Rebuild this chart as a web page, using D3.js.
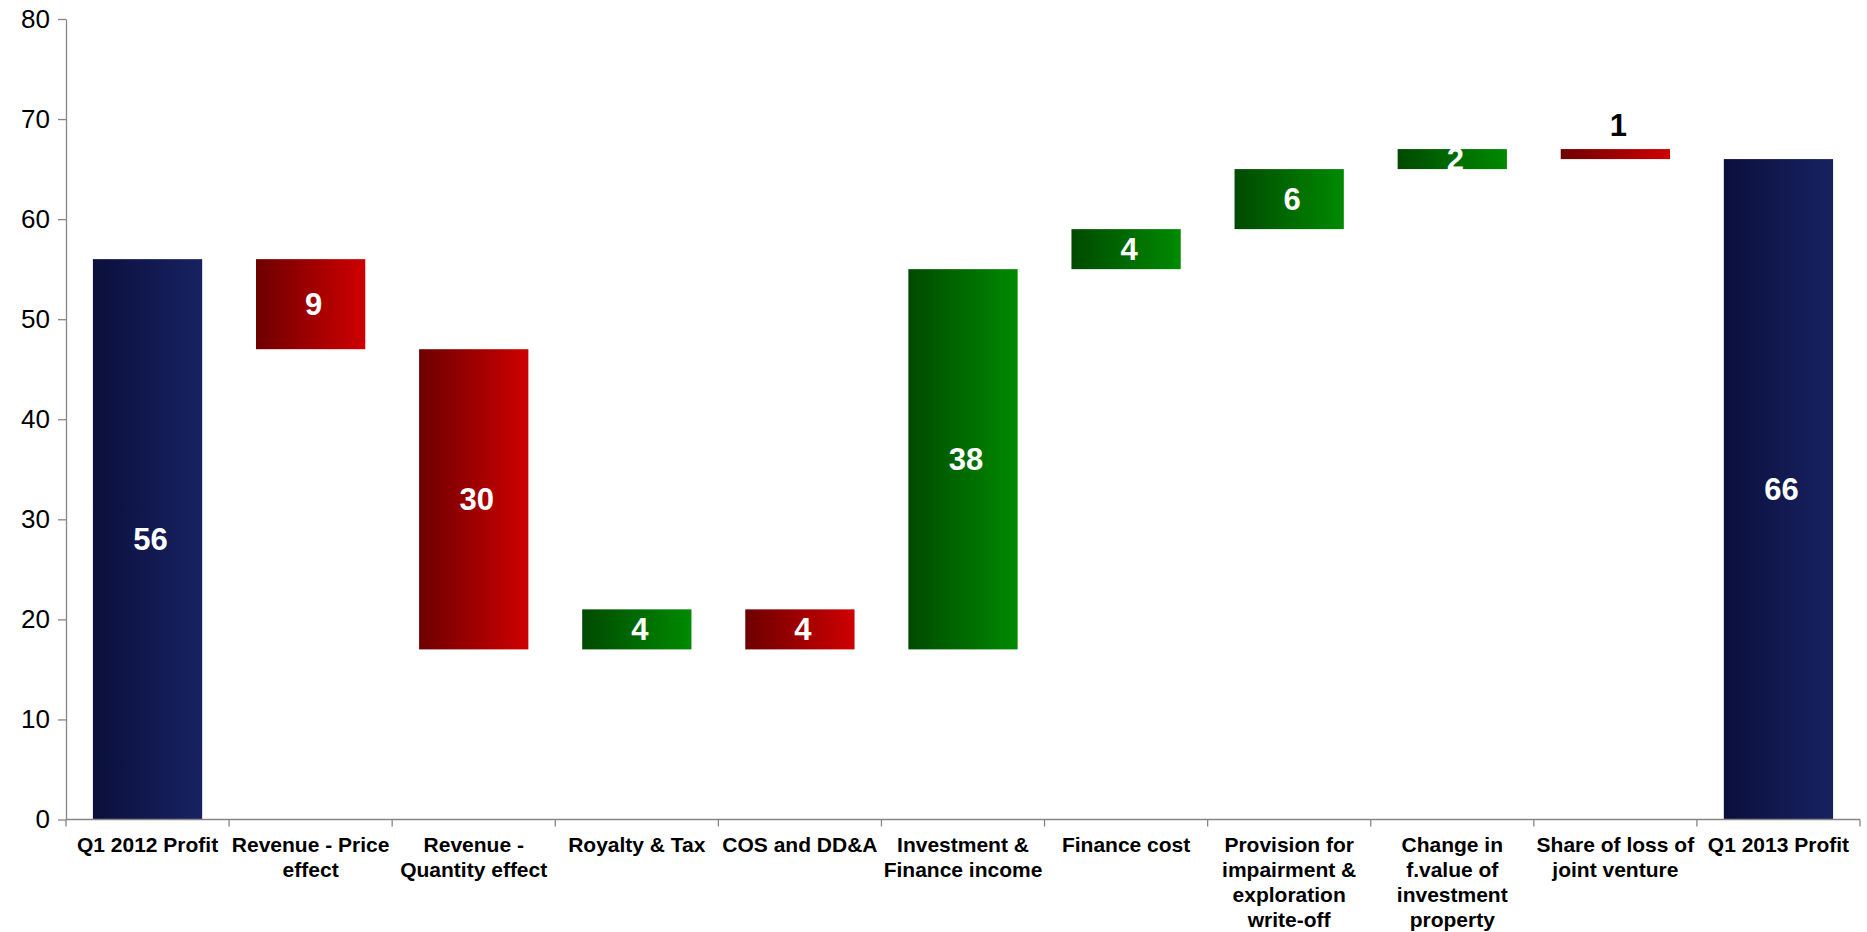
<!DOCTYPE html>
<html>
<head>
<meta charset="utf-8">
<script src="https://cdn.jsdelivr.net/npm/d3@7/dist/d3.min.js"></script>
<style>
  body { margin: 0; background: #fff; }
  text { font-family: "Liberation Sans", Arial, sans-serif; }
</style>
</head>
<body>
<div id="chart"></div>
<script>
// waterfall data
var categories = ["Q1 2012 Profit", "Revenue - Price effect", "Revenue - Quantity effect",
  "Royalty & Tax", "COS and DD&A", "Investment & Finance income", "Finance cost",
  "Provision for impairment & exploration write-off",
  "Change in f.value of investment property", "Share of loss of joint venture", "Q1 2013 Profit"];
var values = [56, -9, -30, 4, -4, 38, 4, 6, 2, -1, 66];
var kinds = ["total", "delta", "delta", "delta", "delta", "delta", "delta", "delta", "delta", "delta", "total"];
var yTicks = [0, 10, 20, 30, 40, 50, 60, 70, 80];

var width = 1867, height = 932;
var margin = {top: 19, right: 7, bottom: 112.5, left: 66};

var svg = d3.select("#chart").append("svg")
    .attr("width", width)
    .attr("height", height);

// gradients, dark on the left to light on the right
var defs = svg.append("defs");
var grads = {
  total: ["#0a0f3b", "#182262"],
  up: ["#004a00", "#008a00"],
  down: ["#6e0000", "#cf0000"]
};
Object.keys(grads).forEach(function(k) {
  var g = defs.append("linearGradient").attr("id", "g-" + k)
      .attr("x1", 0).attr("x2", 1).attr("y1", 0).attr("y2", 0);
  g.append("stop").attr("offset", "0%").attr("stop-color", grads[k][0]);
  g.append("stop").attr("offset", "100%").attr("stop-color", grads[k][1]);
});

// running totals -> start / end of each bar
var running = 0;
var data = categories.map(function(c, i) {
  var d = {name: c, value: values[i], kind: kinds[i]};
  if (d.kind === "total") {
    d.start = 0; d.end = d.value; running = d.value;
  } else {
    d.start = running; d.end = running + d.value; running = d.end;
  }
  return d;
});

var x = d3.scaleBand()
    .domain(categories)
    .range([margin.left, width - margin.right])
    .paddingInner(0.33)
    .paddingOuter(0.165);

var y = d3.scaleLinear()
    .domain([0, 80])
    .range([height - margin.bottom, margin.top]);

var step = x.step();

// bars
svg.append("g")
  .selectAll("rect")
  .data(data)
  .enter().append("rect")
    .attr("x", function(d) { return x(d.name); })
    .attr("width", x.bandwidth())
    .attr("y", function(d) { return y(Math.max(d.start, d.end)); })
    .attr("height", function(d) { return Math.abs(y(d.start) - y(d.end)); })
    .attr("fill", function(d) {
      if (d.kind === "total") return "url(#g-total)";
      return d.value >= 0 ? "url(#g-up)" : "url(#g-down)";
    });

// value labels
svg.append("g")
  .selectAll("text")
  .data(data)
  .enter().append("text")
    .attr("x", function(d) { return x(d.name) + x.bandwidth() / 2 + 3; })
    .attr("y", function(d) {
      var h = Math.abs(y(d.start) - y(d.end));
      if (h < 15) return y(Math.max(d.start, d.end)) - 13;
      return y((d.start + d.end) / 2);
    })
    .attr("dy", function(d) {
      return Math.abs(y(d.start) - y(d.end)) < 15 ? 0 : "0.35em";
    })
    .attr("text-anchor", "middle")
    .attr("font-size", "31px")
    .attr("font-weight", "bold")
    .attr("fill", function(d) { return Math.abs(y(d.start) - y(d.end)) < 15 ? "#000" : "#fff"; })
    .text(function(d) { return Math.abs(d.value); });

// y axis
var yAxis = svg.append("g")
    .attr("transform", "translate(" + margin.left + ",0)")
    .call(d3.axisLeft(y).tickValues(yTicks).tickSize(8).tickSizeOuter(0).tickPadding(8));
yAxis.select(".domain").attr("stroke", "#868686").attr("stroke-width", 1.3);
yAxis.selectAll(".tick line").attr("stroke", "#868686").attr("stroke-width", 1.3);
yAxis.selectAll(".tick text")
    .attr("font-size", "26px")
    .attr("font-family", "Liberation Sans, Arial, sans-serif")
    .attr("fill", "#000");

// x axis: line and ticks between categories
var x0 = y(0);
var xAxis = svg.append("g");
xAxis.append("line")
    .attr("x1", margin.left).attr("x2", width - margin.right)
    .attr("y1", x0).attr("y2", x0)
    .attr("stroke", "#868686").attr("stroke-width", 1.3);
xAxis.selectAll(".xt")
  .data(d3.range(categories.length + 1))
  .enter().append("line")
    .attr("class", "xt")
    .attr("x1", function(i) { return margin.left + i * step; })
    .attr("x2", function(i) { return margin.left + i * step; })
    .attr("y1", x0).attr("y2", x0 + 7)
    .attr("stroke", "#868686").attr("stroke-width", 1.3);

// category labels, wrapped to the band width
var labels = xAxis.selectAll(".xl")
  .data(data)
  .enter().append("text")
    .attr("class", "xl")
    .attr("text-anchor", "middle")
    .attr("font-size", "21px")
    .attr("font-weight", "bold")
    .attr("fill", "#000")
    .attr("y", x0 + 32);

labels.each(function(d) {
  var t = d3.select(this);
  var cx = x(d.name) + x.bandwidth() / 2;
  var words = d.name.split(" ");
  var lines = [], line = [];
  var probe = t.append("tspan");
  words.forEach(function(w) {
    line.push(w);
    probe.text(line.join(" "));
    if (probe.node().getComputedTextLength() > step && line.length > 1) {
      line.pop();
      lines.push(line.join(" "));
      line = [w];
    }
  });
  lines.push(line.join(" "));
  probe.remove();
  lines.forEach(function(l, i) {
    t.append("tspan")
      .attr("x", cx)
      .attr("y", x0 + 32 + i * 25)
      .text(l);
  });
});
</script>
</body>
</html>
